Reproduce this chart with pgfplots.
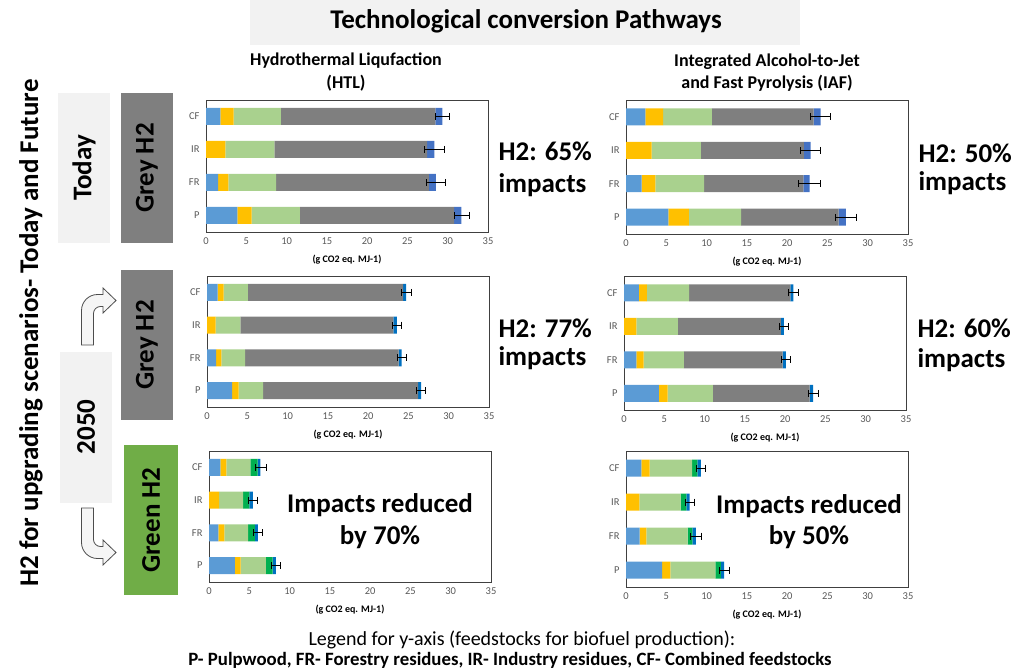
\documentclass[border=0pt]{standalone}
\usepackage{pgfplots}
\pgfplotsset{compat=1.18}
\usepackage{pgfplotstable}
\usepackage{fontspec}
\setmainfont{Carlito}

\definecolor{cLB}{HTML}{5B9BD5}
\definecolor{cYE}{HTML}{FFC000}
\definecolor{cLG}{HTML}{A9D18E}
\definecolor{cGR}{HTML}{7F7F7F}
\definecolor{cDB}{HTML}{4472C4}
\definecolor{cBB}{HTML}{0070C0}
\definecolor{cDG}{HTML}{00B050}
\definecolor{boxLight}{HTML}{F2F2F2}
\definecolor{boxGrey}{HTML}{7F7F7F}
\definecolor{boxGreen}{HTML}{70AD47}
\definecolor{tickGrey}{HTML}{595959}

% Contributions (g CO2 eq. MJ-1), rows P, FR, IR, CF
% s1 light blue, s2 yellow, s3 light green, s4 grey (green H2: dark green), s5 blue,
% tot = sum of the segments, err = +/- on the total
\pgfplotstableread{
pos s1 s2 s3 s4 s5 tot err
0 3.88 1.77 5.99 19.15 0.91 31.70 0.93
1 1.49 1.28 5.94 18.94 0.87 28.52 1.20
2 0.00 2.39 6.11 18.94 0.91 28.35 1.24
3 1.77 1.66 5.86 19.19 0.86 29.34 0.93
}\htlToday
\pgfplotstableread{
pos s1 s2 s3 s4 s5 tot err
0 5.26 2.53 6.50 12.10 0.91 27.30 1.28
1 1.95 1.70 6.04 12.31 0.78 22.78 1.38
2 0.00 3.19 6.09 12.80 0.83 22.91 1.22
3 2.40 2.20 6.05 12.63 0.87 24.15 1.22
}\iafToday
\pgfplotstableread{
pos s1 s2 s3 s4 s5 tot err
0 3.11 0.83 3.03 19.24 0.38 26.59 0.55
1 1.12 0.66 2.95 19.04 0.37 24.14 0.55
2 0.00 1.08 3.07 18.99 0.42 23.56 0.55
3 1.33 0.74 2.99 19.29 0.37 24.72 0.60
}\htlGrey
\pgfplotstableread{
pos s1 s2 s3 s4 s5 tot err
0 4.33 1.08 5.61 12.01 0.45 23.48 0.62
1 1.53 0.90 5.00 12.26 0.41 20.10 0.60
2 0.00 1.53 5.16 12.79 0.37 19.85 0.60
3 1.86 0.99 5.24 12.55 0.37 21.01 0.58
}\iafGrey
\pgfplotstableread{
pos s1 s2 s3 s4 s5 tot err
0 3.20 0.74 3.12 0.83 0.41 8.30 0.52
1 1.16 0.75 2.95 0.83 0.37 6.06 0.54
2 0.00 1.25 2.98 0.79 0.42 5.44 0.58
3 1.41 0.75 2.99 0.87 0.37 6.39 0.68
}\htlGreen
\pgfplotstableread{
pos s1 s2 s3 s4 s5 tot err
0 4.47 1.04 5.59 0.66 0.42 12.18 0.62
1 1.70 0.83 5.13 0.58 0.42 8.66 0.64
2 0.00 1.66 5.13 0.71 0.41 7.91 0.56
3 1.91 1.03 5.26 0.66 0.42 9.28 0.58
}\iafGreen

\pgfplotsset{
  geom/.style={
    scale only axis, width=282pt, anchor=north west,
    xmin=0, xmax=35, ymin=-0.5, ymax=3.5, clip=false,
  },
  panel/.style={
    geom, xbar stacked,
    xtick={0,5,...,35}, ytick={0,1,2,3}, yticklabels={P,FR,IR,CF},
    bar width=17pt, major tick length=0pt,
    axis line style={black!75, line width=0.9pt},
    ticklabel style={font=\fontsize{10.5}{12}\selectfont, text=tickGrey},
    /pgf/number format/assume math mode=true,
    xticklabel style={yshift=-2pt},
    yticklabel style={xshift=-3pt},
    xlabel={(g CO2 eq. MJ-1)},
    xlabel style={font=\bfseries\fontsize{10}{12}\selectfont, text=black, yshift=-4pt},
  },
}

% one panel: position, plot height, table, 4th colour, 5th colour
\newcommand{\panel}[5]{%
  \begin{axis}[panel, at={#1}, height=#2]
    \addplot[fill=cLB, draw=none] table[x=s1, y=pos] {#3};
    \addplot[fill=cYE, draw=none] table[x=s2, y=pos] {#3};
    \addplot[fill=cLG, draw=none] table[x=s3, y=pos] {#3};
    \addplot[fill=#4, draw=none] table[x=s4, y=pos] {#3};
    \addplot[fill=#5, draw=none] table[x=s5, y=pos] {#3};
  \end{axis}
  % error bars on the totals
  \begin{axis}[geom, at={#1}, height=#2, hide axis]
    \addplot[draw=none, mark=none,
      error bars/.cd, x dir=both, x explicit,
      error bar style={draw=black, line width=0.8pt},
      error mark=|,
      error mark options={draw=black, mark size=3.5pt, line width=0.8pt}]
      table[x=tot, y=pos, x error=err] {#3};
  \end{axis}
}

\begin{document}
\begin{tikzpicture}[x=1pt, y=1pt]
\useasboundingbox (0,0) rectangle (1012,-669);

% header
\fill[boxLight] (250,0) rectangle (800,-45);
\node[font=\bfseries\fontsize{27}{30}\selectfont] at (526,-21) {Technological conversion Pathways};
\node[font=\bfseries\fontsize{18}{23}\selectfont, align=center] at (346,-72) {Hydrothermal Liqufaction\\(HTL)};
\node[font=\bfseries\fontsize{18}{22}\selectfont, align=center] at (767,-73) {Integrated Alcohol-to-Jet\\and Fast Pyrolysis (IAF)};

% left side labels
\node[rotate=90, font=\bfseries\fontsize{27}{30}\selectfont] at (31,-333) {H2 for upgrading scenarios- Today and Future};
\fill[boxLight] (58,-93) rectangle (110,-243);
\node[rotate=90, font=\bfseries\fontsize{27}{30}\selectfont] at (84,-168) {Today};
\fill[boxGrey] (121,-93) rectangle (173,-243);
\node[rotate=90, font=\bfseries\fontsize{27}{30}\selectfont] at (147,-168) {Grey H2};
\fill[boxGrey] (121,-270) rectangle (173,-420);
\node[rotate=90, font=\bfseries\fontsize{27}{30}\selectfont] at (147,-345) {Grey H2};
\fill[boxLight] (60,-352) rectangle (112,-503);
\node[rotate=90, font=\bfseries\fontsize{27}{30}\selectfont] at (86,-427) {2050};
\fill[boxGreen] (124,-445) rectangle (178,-595);
\node[rotate=90, font=\bfseries\fontsize{27}{30}\selectfont] at (151,-520) {Green H2};

% bent arrows
\draw[black!70, line width=0.8pt, fill=black!4]
  (81.5,-345) [rounded corners=16pt] -- (81.5,-294.5) [sharp corners] -- (103,-294.5) -- (103,-288) -- (116,-300.5)
  -- (103,-313) -- (103,-306.5) [rounded corners=7pt] -- (93.5,-306.5) [sharp corners] -- (93.5,-345) -- cycle;
\draw[black!70, line width=0.8pt, fill=black!4]
  (81.5,-508) [rounded corners=16pt] -- (81.5,-558.5) [sharp corners] -- (103,-558.5) -- (103,-565) -- (116,-552.5)
  -- (103,-540) -- (103,-546.5) [rounded corners=7pt] -- (93.5,-546.5) [sharp corners] -- (93.5,-508) -- cycle;

% panels
\panel{(206pt,-100pt)}{132pt}{\htlToday}{cGR}{cDB}
\panel{(626pt,-100pt)}{134pt}{\iafToday}{cGR}{cDB}
\panel{(207pt,-276pt)}{131pt}{\htlGrey}{cGR}{cBB}
\panel{(624pt,-276pt)}{134pt}{\iafGrey}{cGR}{cBB}
\panel{(209pt,-451pt)}{131pt}{\htlGreen}{cDG}{cBB}
\panel{(626pt,-451pt)}{136pt}{\iafGreen}{cDG}{cBB}

% statements beside the panels
\node[font=\bfseries\fontsize{27}{32}\selectfont, align=left, anchor=west] at (495,-169) {H2: 65\%\\impacts};
\node[font=\bfseries\fontsize{27}{28}\selectfont, align=left, anchor=west] at (915,-169) {H2: 50\%\\impacts};
\node[font=\bfseries\fontsize{27}{28}\selectfont, align=left, anchor=west] at (495,-344) {H2: 77\%\\impacts};
\node[font=\bfseries\fontsize{27}{30}\selectfont, align=left, anchor=west] at (914,-345) {H2: 60\%\\impacts};
\node[font=\bfseries\fontsize{27}{32}\selectfont, align=center] at (380,-521) {Impacts reduced\\by 70\%};
\node[font=\bfseries\fontsize{27}{31}\selectfont, align=center] at (809,-522) {Impacts reduced\\by 50\%};

% y-axis legend
\node[font=\fontsize{20}{22}\selectfont] at (522,-640) {Legend for y-axis (feedstocks for biofuel production):};
\node[font=\bfseries\fontsize{18.8}{22}\selectfont] at (510,-660) {P- Pulpwood, FR- Forestry residues, IR- Industry residues, CF- Combined feedstocks};
\end{tikzpicture}
\end{document}
